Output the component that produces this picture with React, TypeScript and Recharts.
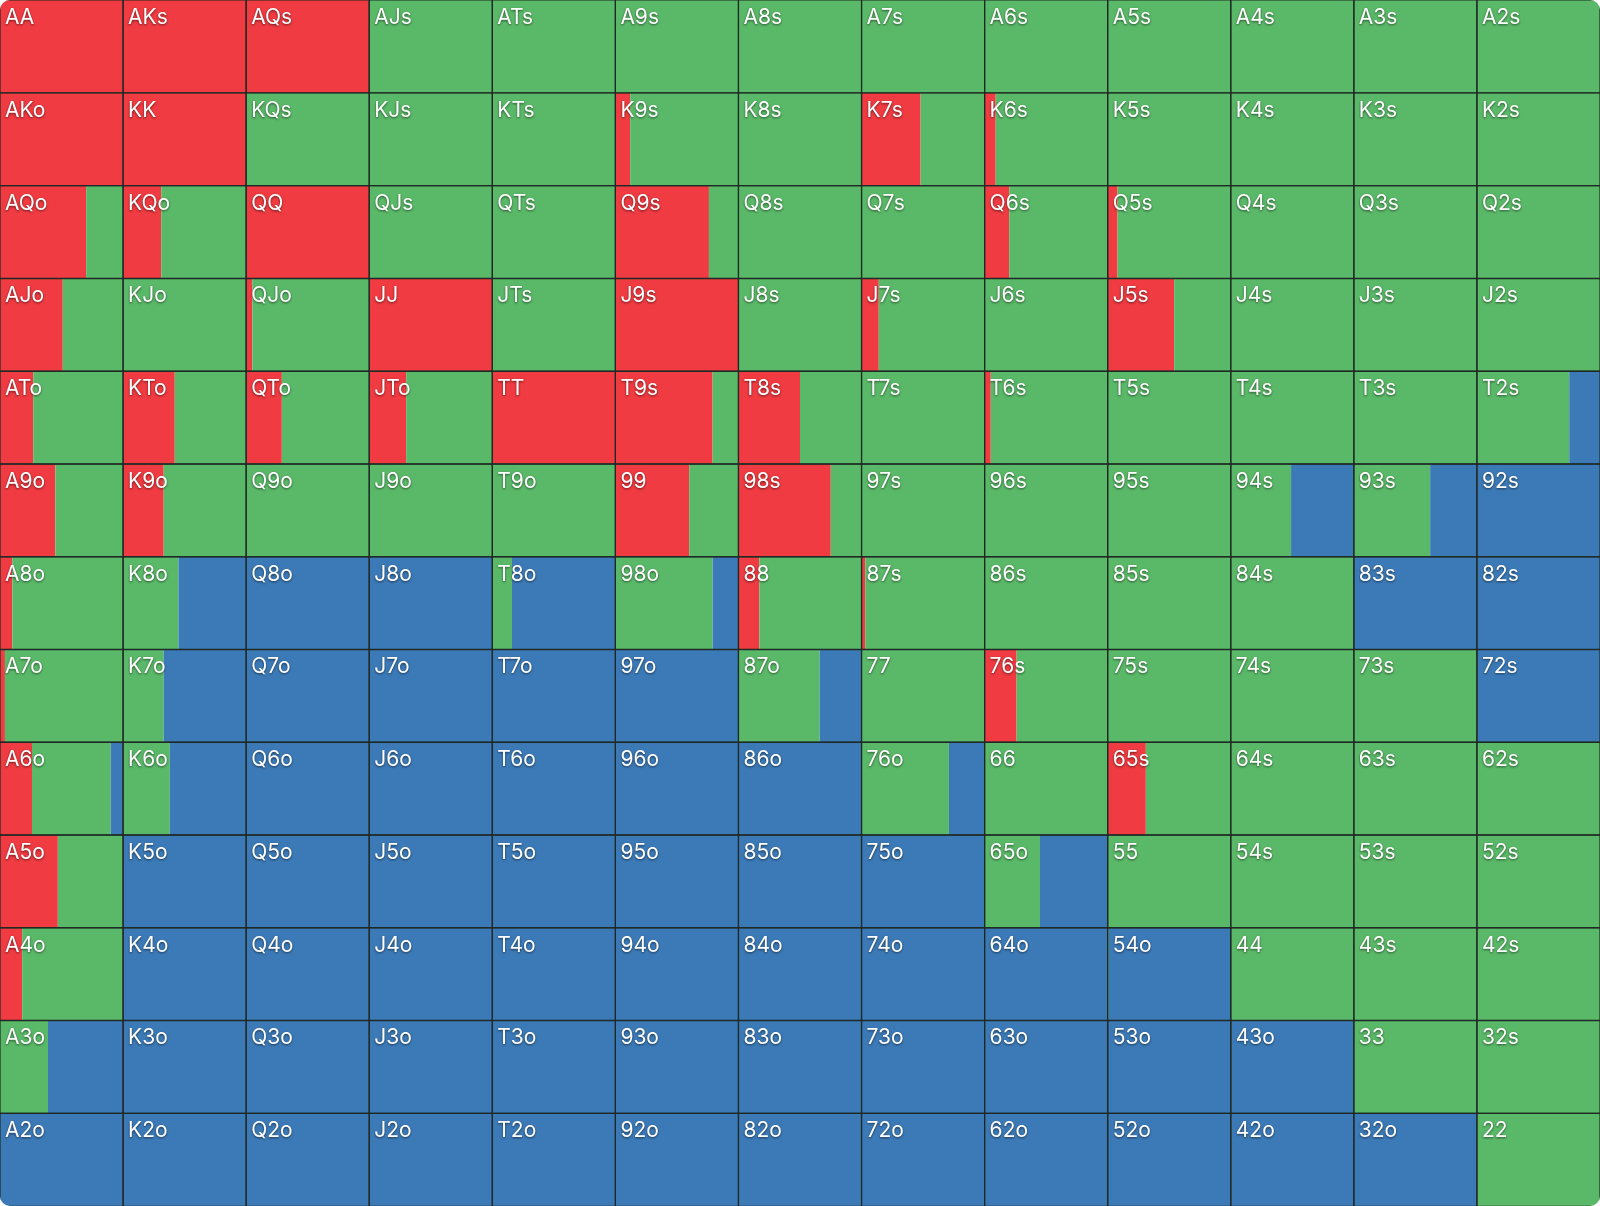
import { BarChart, Bar, XAxis, YAxis, LabelList } from 'recharts';

const RANKS = ['A', 'K', 'Q', 'J', 'T', '9', '8', '7', '6', '5', '4', '3', '2'];

// action frequencies in % per hand; row = first rank, col = second rank
const RAISE = [
  [100, 100, 100, 0, 0, 0, 0, 0, 0, 0, 0, 0, 0],
  [100, 100, 0, 0, 0, 12, 0, 48, 9, 0, 0, 0, 0],
  [70, 31, 100, 0, 0, 76, 0, 0, 20, 8, 0, 0, 0],
  [51, 0, 5, 100, 0, 100, 0, 14, 0, 54, 0, 0, 0],
  [27, 42, 29, 30, 100, 79, 50, 0, 5, 0, 0, 0, 0],
  [45, 33, 0, 0, 0, 60, 75, 0, 0, 0, 0, 0, 0],
  [10, 0, 0, 0, 0, 0, 17, 3, 0, 0, 0, 0, 0],
  [4, 0, 0, 0, 0, 0, 0, 0, 26, 0, 0, 0, 0],
  [26, 0, 0, 0, 0, 0, 0, 0, 0, 31, 0, 0, 0],
  [47, 0, 0, 0, 0, 0, 0, 0, 0, 0, 0, 0, 0],
  [18, 0, 0, 0, 0, 0, 0, 0, 0, 0, 0, 0, 0],
  [0, 0, 0, 0, 0, 0, 0, 0, 0, 0, 0, 0, 0],
  [0, 0, 0, 0, 0, 0, 0, 0, 0, 0, 0, 0, 0],
];

const CALL = [
  [0, 0, 0, 100, 100, 100, 100, 100, 100, 100, 100, 100, 100],
  [0, 0, 100, 100, 100, 88, 100, 52, 91, 100, 100, 100, 100],
  [30, 69, 0, 100, 100, 24, 100, 100, 80, 92, 100, 100, 100],
  [49, 100, 95, 0, 100, 0, 100, 86, 100, 46, 100, 100, 100],
  [73, 58, 71, 70, 0, 21, 50, 100, 95, 100, 100, 100, 75],
  [55, 67, 100, 100, 100, 40, 25, 100, 100, 100, 49, 62, 0],
  [90, 45, 0, 0, 16, 79, 83, 97, 100, 100, 100, 0, 0],
  [96, 33, 0, 0, 0, 0, 66, 100, 74, 100, 100, 100, 0],
  [64, 38, 0, 0, 0, 0, 0, 71, 100, 69, 100, 100, 100],
  [53, 0, 0, 0, 0, 0, 0, 0, 45, 100, 100, 100, 100],
  [82, 0, 0, 0, 0, 0, 0, 0, 0, 1, 100, 100, 100],
  [39, 0, 0, 0, 0, 0, 0, 0, 0, 0, 0, 100, 100],
  [0, 0, 0, 0, 0, 0, 0, 0, 0, 0, 0, 0, 100],
];

const FOLD = [
  [0, 0, 0, 0, 0, 0, 0, 0, 0, 0, 0, 0, 0],
  [0, 0, 0, 0, 0, 0, 0, 0, 0, 0, 0, 0, 0],
  [0, 0, 0, 0, 0, 0, 0, 0, 0, 0, 0, 0, 0],
  [0, 0, 0, 0, 0, 0, 0, 0, 0, 0, 0, 0, 0],
  [0, 0, 0, 0, 0, 0, 0, 0, 0, 0, 0, 0, 25],
  [0, 0, 0, 0, 0, 0, 0, 0, 0, 0, 51, 38, 100],
  [0, 55, 100, 100, 84, 21, 0, 0, 0, 0, 0, 100, 100],
  [0, 67, 100, 100, 100, 100, 34, 0, 0, 0, 0, 0, 100],
  [10, 62, 100, 100, 100, 100, 100, 29, 0, 0, 0, 0, 0],
  [0, 100, 100, 100, 100, 100, 100, 100, 55, 0, 0, 0, 0],
  [0, 100, 100, 100, 100, 100, 100, 100, 100, 99, 0, 0, 0],
  [61, 100, 100, 100, 100, 100, 100, 100, 100, 100, 100, 0, 0],
  [100, 100, 100, 100, 100, 100, 100, 100, 100, 100, 100, 100, 0],
];

const RED = '#EF3B41';
const GREEN = '#5AB968';
const BLUE = '#3C7AB7';
const LINE = '#1f2a24';

const W = 1600;
const H = 1206;
const COLS = RANKS.map((_, i) => i);

function handLabel(row: number, col: number) {
  if (row === col) return RANKS[row] + RANKS[col];
  if (col > row) return RANKS[row] + RANKS[col] + 's';
  return RANKS[col] + RANKS[row] + 'o';
}

const data = RANKS.map((rank, row) => {
  const d: Record<string, string | number> = { rank };
  COLS.forEach((col) => {
    d[`r${col}`] = RAISE[row][col];
    d[`c${col}`] = CALL[row][col];
    d[`f${col}`] = FOLD[row][col];
    d[`t${col}`] = RAISE[row][col] + CALL[row][col] + FOLD[row][col];
    d[`l${col}`] = handLabel(row, col);
  });
  return d;
});

const xMax = RANKS.length * 100;

const renderHand = (props: any) => {
  const { x, y, value } = props;
  return (
    <text
      x={Number(x) + 5}
      y={Number(y) + 24}
      fill="#ffffff"
      fontSize={21}
      fontFamily="Inter, 'Noto Sans', sans-serif"
      style={{ filter: 'drop-shadow(0px 1px 1px rgba(0,0,0,0.55))' }}
    >
      {value}
    </text>
  );
};

export default function App() {
  const common = {
    width: W,
    height: H,
    data,
    layout: 'vertical' as const,
    margin: { top: 0, right: 0, bottom: 0, left: 0 },
    barCategoryGap: 0,
    barGap: 0,
  };

  return (
    <div
      style={{
        position: 'absolute',
        left: 0,
        top: 0,
        width: W,
        height: H,
        borderRadius: 10,
        overflow: 'hidden',
        background: '#ffffff',
      }}
    >
      {/* colour fills */}
      <div style={{ position: 'absolute', left: 0, top: 0 }}>
        <BarChart {...common}>
          <XAxis type="number" domain={[0, xMax]} hide />
          <YAxis type="category" dataKey="rank" hide />
          {COLS.flatMap((col) => [
            <Bar key={`r${col}`} dataKey={`r${col}`} stackId="s" fill={RED} isAnimationActive={false} />,
            <Bar key={`c${col}`} dataKey={`c${col}`} stackId="s" fill={GREEN} isAnimationActive={false} />,
            <Bar key={`f${col}`} dataKey={`f${col}`} stackId="s" fill={BLUE} isAnimationActive={false} />,
          ])}
        </BarChart>
      </div>
      {/* cell borders and hand names on top */}
      <div style={{ position: 'absolute', left: 0, top: 0 }}>
        <BarChart {...common}>
          <XAxis type="number" domain={[0, xMax]} hide />
          <YAxis type="category" dataKey="rank" hide />
          {COLS.map((col) => (
            <Bar
              key={`t${col}`}
              dataKey={`t${col}`}
              stackId="cell"
              fill="none"
              stroke={LINE}
              strokeWidth={1.2}
              isAnimationActive={false}
            >
              <LabelList dataKey={`l${col}`} content={renderHand} />
            </Bar>
          ))}
        </BarChart>
      </div>
    </div>
  );
}
